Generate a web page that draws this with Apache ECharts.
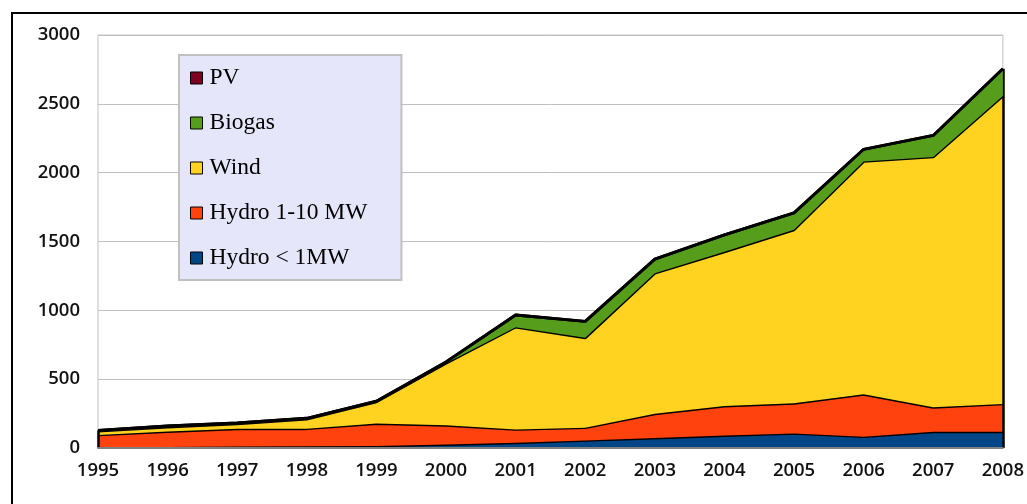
<!DOCTYPE html>
<html>
<head>
<meta charset="utf-8">
<script src="https://cdn.jsdelivr.net/npm/echarts@6/dist/echarts.min.js"></script>
<style>
  html, body { margin: 0; padding: 0; background: #fff; }
  #chart { width: 1027px; height: 504px; }
</style>
</head>
<body>
<div id="chart"></div>
<script>
// Installed capacity by renewable source, MW
const years = ['1995','1996','1997','1998','1999','2000','2001','2002','2003','2004','2005','2006','2007','2008'];
const hydroSmall = [5, 8, 10, 12, 15, 25, 38, 55, 72, 90, 106, 82, 118, 118];
const hydroMid   = [90, 112, 130, 128, 163, 140, 97, 93, 176, 215, 219, 308, 178, 202];
const wind       = [27, 32, 35, 70, 157, 450, 743, 652, 1022, 1120, 1260, 1692, 1818, 2237];
const biogas     = [6, 8, 7, 6, 5, 10, 88, 120, 102, 123, 123, 88, 156, 198];
const pv         = [0, 0, 0, 0, 0, 0, 0, 0, 0, 0, 0, 0, 0, 0];
const yTicks = { min: 0, max: 3000, step: 500 };

const names = ['Hydro < 1MW', 'Hydro 1-10 MW', 'Wind', 'Biogas', 'PV'];
const colors = ['#004586', '#ff420e', '#ffd320', '#579d1c', '#7e0021'];
const values = [hydroSmall, hydroMid, wind, biogas, pv];

// stacked total for the closing edges of the area block
const totals = years.map((_, i) => values.reduce((s, arr) => s + arr[i], 0));
const first = years[0], last = years[years.length - 1];

const series = names.map((name, k) => ({
  name,
  type: 'line',
  stack: 'total',
  data: values[k],
  symbol: 'none',
  smooth: false,
  z: 2 + k,
  lineStyle: { color: '#000', width: 2.8 },
  itemStyle: { color: colors[k], borderColor: '#000', borderWidth: 1 },
  areaStyle: { color: colors[k], opacity: 1 },
  markLine: k === names.length - 1 ? {
    silent: true,
    symbol: 'none',
    label: { show: false },
    lineStyle: { color: '#000', width: 2.5, type: 'solid' },
    data: [
      [{ coord: [last, 0] }, { coord: [last, totals[totals.length - 1]] }],
      [{ coord: [first, 0] }, { coord: [first, totals[0]] }]
    ]
  } : undefined
}));

const axisFont = { color: '#111', fontFamily: '"Open Sans", sans-serif', fontWeight: 600, fontSize: 18.5 };

const chart = echarts.init(document.getElementById('chart'), null, { renderer: 'canvas' });
chart.setOption({
  animation: false,
  backgroundColor: '#fff',
  graphic: [{
    type: 'rect',
    shape: { x: 12, y: 13, width: 1040, height: 520 },
    style: { fill: 'none', stroke: '#000', lineWidth: 2 },
    z: 100
  }],
  grid: {
    left: 98, right: 22, top: 35, bottom: 56,
    show: true, borderColor: '#c0c0c0', borderWidth: 1, backgroundColor: 'transparent'
  },
  legend: {
    orient: 'vertical',
    left: 179, top: 55,
    data: names.slice().reverse(),
    icon: 'rect',
    itemWidth: 12, itemHeight: 12,
    itemGap: 21,
    padding: [11, 34, 10, 11],
    backgroundColor: '#e6e6fa',
    borderColor: '#c0c0c0',
    borderWidth: 2,
    itemStyle: { borderColor: '#000', borderWidth: 1 },
    lineStyle: { width: 0 },
    textStyle: {
      fontFamily: '"Liberation Serif", serif', fontSize: 23.5, color: '#000',
      padding: [0, 0, 0, 2]
    }
  },
  xAxis: {
    type: 'category',
    data: years,
    boundaryGap: false,
    axisLine: { lineStyle: { color: '#808080', width: 2 } },
    axisTick: { show: false },
    axisLabel: Object.assign({ margin: 13, interval: 0 }, axisFont),
    splitLine: { show: false },
    z: 10
  },
  yAxis: {
    type: 'value',
    min: yTicks.min, max: yTicks.max, interval: yTicks.step,
    axisLine: { show: false },
    axisTick: { show: false },
    axisLabel: Object.assign({ margin: 18, formatter: v => String(v) }, axisFont),
    splitLine: { lineStyle: { color: '#c0c0c0', width: 1 } }
  },
  series
});
</script>
</body>
</html>
